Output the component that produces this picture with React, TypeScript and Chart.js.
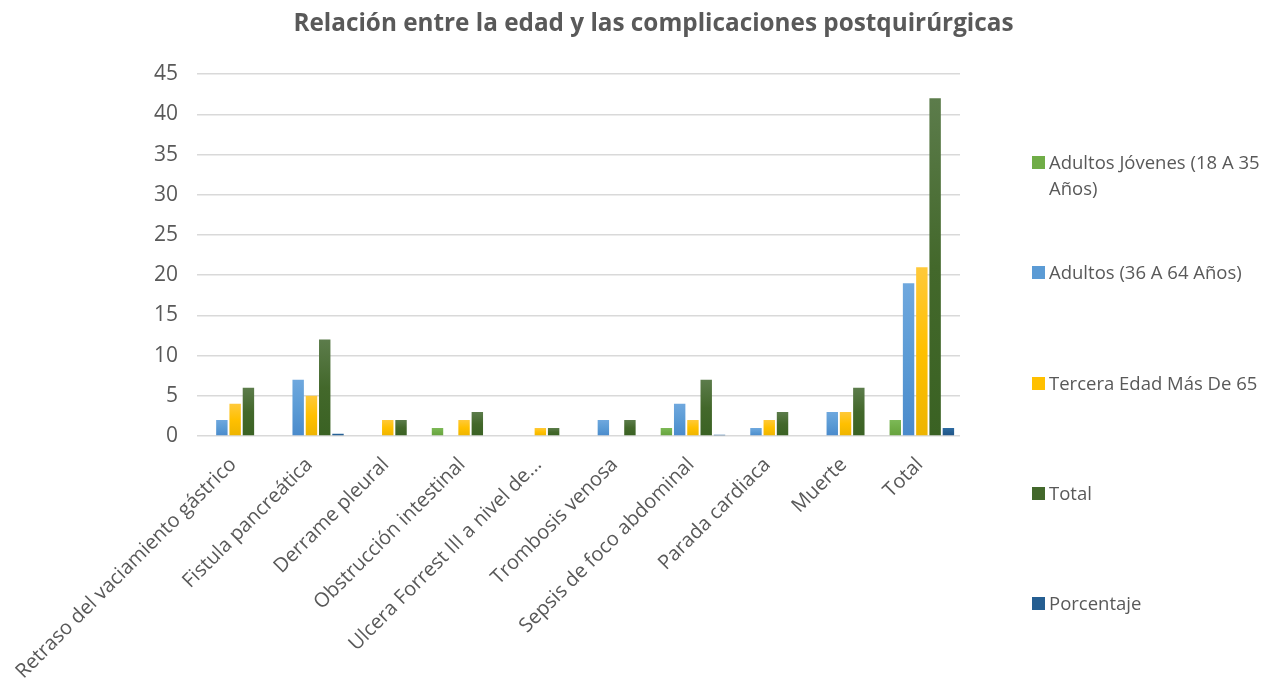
import React, { useEffect, useRef } from "react";
import { Chart, registerables } from "chart.js";

Chart.register(...registerables);

const title = "Relación entre la edad y las complicaciones postquirúrgicas";

const categories = [
  "Retraso del vaciamiento gástrico",
  "Fistula pancreática",
  "Derrame pleural",
  "Obstrucción intestinal",
  "Ulcera Forrest III a nivel de...",
  "Trombosis venosa",
  "Sepsis de foco abdominal",
  "Parada cardiaca",
  "Muerte",
  "Total",
];

const adultosJovenes = [0, 0, 0, 1, 0, 0, 1, 0, 0, 2];
const adultos = [2, 7, 0, 0, 0, 2, 4, 1, 3, 19];
const terceraEdad = [4, 5, 2, 2, 1, 0, 2, 2, 3, 21];
const totalSerie = [6, 12, 2, 3, 1, 2, 7, 3, 6, 42];
const porcentaje = [0, 0.29, 0, 0, 0, 0, 0.17, 0, 0, 1];

const seriesNames = [
  "Adultos Jóvenes (18 A 35 Años)",
  "Adultos (36 A 64 Años)",
  "Tercera Edad Más De 65",
  "Total",
  "Porcentaje",
];
const legendLines = [
  ["Adultos Jóvenes (18 A 35", "Años)"],
  ["Adultos (36 A 64 Años)"],
  ["Tercera Edad Más De 65"],
  ["Total"],
  ["Porcentaje"],
];
const baseColors = ["#70AD47", "#5B9BD5", "#FFC000", "#43682B", "#255E91"];
const topColors = ["#7DB957", "#6FA8DE", "#FFC93A", "#5C7C4B", "#2F6BA3"];
const bottomColors = ["#67A23E", "#4A8ACB", "#EDB400", "#3A6223", "#205486"];

const yTicks = { min: 0, max: 45, step: 5 };

const FONT = "'Open Sans', sans-serif";
const TEXT = "#595959";

export default function App() {
  const canvasRef = useRef<HTMLCanvasElement | null>(null);

  useEffect(() => {
    if (!canvasRef.current) return;
    const seriesData = [adultosJovenes, adultos, terceraEdad, totalSerie, porcentaje];
    const makeBg = (i: number) => (ctx: any) => {
      const chart = ctx.chart;
      const ys = chart.scales && chart.scales.y;
      if (!ys || ctx.parsed == null || ctx.parsed.y == null) return baseColors[i];
      const top = ys.getPixelForValue(ctx.parsed.y);
      const bottom = ys.getPixelForValue(0);
      if (!isFinite(top) || !isFinite(bottom) || bottom - top < 1) return baseColors[i];
      const g = chart.ctx.createLinearGradient(0, top, 0, bottom);
      g.addColorStop(0, topColors[i]);
      g.addColorStop(0.5, baseColors[i]);
      g.addColorStop(1, bottomColors[i]);
      return g;
    };
    const chart = new Chart(canvasRef.current, {
      type: "bar",
      data: {
        labels: categories,
        datasets: seriesNames.map((name, i) => ({
          label: name,
          data: seriesData[i],
          backgroundColor: makeBg(i),
          borderWidth: 0,
          categoryPercentage: 0.87,
          barPercentage: 0.86,
        })),
      },
      options: {
        animation: false,
        responsive: false,
        maintainAspectRatio: false,
        layout: { padding: { left: 32, right: 0, top: 0, bottom: 0 } },
        plugins: {
          legend: { display: false },
          tooltip: { enabled: false },
          title: {
            display: true,
            text: title,
            color: TEXT,
            font: { family: FONT, size: 24.3, weight: "bold" },
            padding: { top: 9, bottom: 36 },
          },
        },
        scales: {
          x: {
            grid: { display: false, drawTicks: false },
            border: { display: false },
            ticks: {
              color: TEXT,
              font: { family: FONT, size: 20 },
              minRotation: 45,
              maxRotation: 45,
              autoSkip: false,
              padding: 17,
              labelOffset: -2,
            },
            afterFit: (s: any) => {
              s.height = 257;
              s.paddingLeft = 0;
              s.paddingRight = 0;
            },
          },
          y: {
            min: yTicks.min,
            max: yTicks.max,
            grid: { color: "#D9D9D9", lineWidth: 1.5, drawTicks: false },
            border: { display: false },
            ticks: {
              stepSize: yTicks.step,
              color: TEXT,
              font: { family: FONT, size: 21 },
              padding: 19,
            },
            afterFit: (s: any) => {
              s.width = 165;
              s.paddingTop = 0;
              s.paddingBottom = 0;
            },
          },
          yR: {
            position: "right",
            display: true,
            grid: { display: false, drawTicks: false },
            border: { display: false },
            ticks: { display: false },
            afterFit: (s: any) => {
              s.width = 315;
              s.paddingTop = 0;
              s.paddingBottom = 0;
            },
          },
        },
      } as any,
    });
    return () => chart.destroy();
  }, []);

  const legendTops = [149, 259, 370, 480, 590];

  return (
    <div style={{ position: "fixed", left: 0, top: 0, width: 1275, height: 693, background: "#fff" }}>
      <canvas ref={canvasRef} width={1275} height={693} style={{ display: "block" }} />
      {legendLines.map((lines, i) => (
        <div
          key={i}
          style={{
            position: "absolute",
            left: 1032,
            top: legendTops[i],
            fontFamily: FONT,
            fontSize: 18.5,
            lineHeight: "26px",
            color: TEXT,
          }}
        >
          {lines.map((ln, j) => (
            <div key={j} style={{ display: "flex", alignItems: "center", whiteSpace: "nowrap" }}>
              <span
                style={{
                  display: "inline-block",
                  width: 13,
                  height: 13,
                  marginRight: 4,
                  background: j === 0 ? baseColors[i] : "transparent",
                }}
              />
              <span>{ln}</span>
            </div>
          ))}
        </div>
      ))}
    </div>
  );
}
